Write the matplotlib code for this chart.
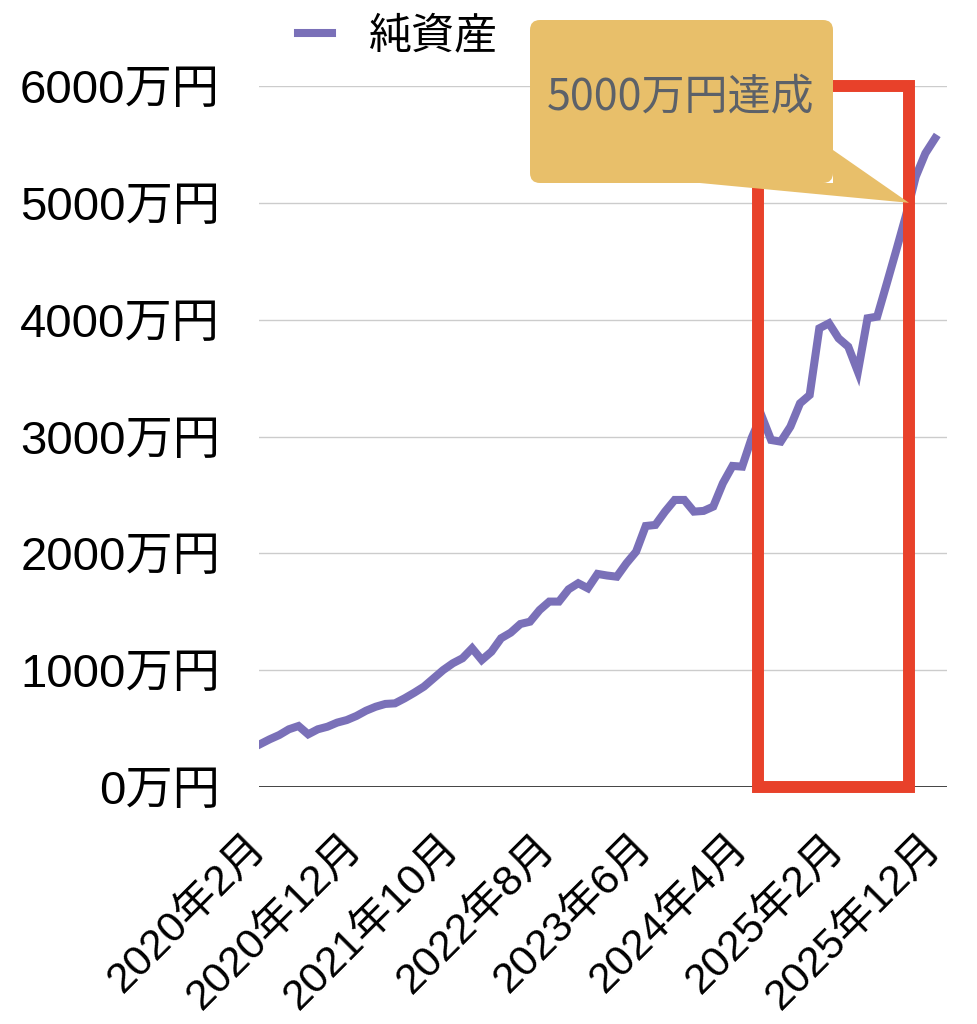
import matplotlib
matplotlib.use("Agg")
import matplotlib.pyplot as plt
from matplotlib.patches import Rectangle, FancyBboxPatch, Polygon
from matplotlib.lines import Line2D
from matplotlib.transforms import IdentityTransform

plt.rcParams["font.family"] = ["Noto Sans CJK JP", "DejaVu Sans"]
tick_family = ["Liberation Sans", "Noto Sans CJK JP"]

# Monthly net worth (万円), 2020年2月 .. 2025年12月
net_worth = [
    366, 408, 445, 494, 522, 451, 494, 516, 551, 573,
    608, 653, 687, 711, 716, 759, 807, 859, 930, 1001,
    1059, 1102, 1187, 1087, 1158, 1273, 1321, 1395, 1415, 1515,
    1587, 1587, 1692, 1744, 1701, 1824, 1810, 1800, 1915, 2014,
    2234, 2243, 2357, 2457, 2457, 2357, 2363, 2400, 2600, 2748,
    2742, 2990, 3180, 2970, 2956, 3084, 3284, 3355, 3926, 3969,
    3840, 3769, 3555, 4012, 4026, 4311, 4600, 4896, 5224, 5424,
    5552,
]
x_tick_labels = ["2020年2月", "2020年12月", "2021年10月", "2022年8月",
                 "2023年6月", "2024年4月", "2025年2月", "2025年12月"]
x_tick_step = 10
y_ticks = [0, 1000, 2000, 3000, 4000, 5000, 6000]
series_label = "純資産"
callout_text = "5000万円達成"
goal_value = 5000
highlight_start, highlight_end = 51.6, 67.3

W, H = 977, 1024
fig = plt.figure(figsize=(W / 100, H / 100), dpi=100)
ax = fig.add_axes([259 / W, 1 - 787 / H, 688 / W, 701 / H])

line_color = "#7A70B8"
xs = list(range(len(net_worth)))
ax.plot(xs, net_worth, color=line_color, lw=5.8, solid_joinstyle="miter", zorder=3)

ax.set_xlim(-0.1, 71.24)
ax.set_ylim(0, 6000)
ax.set_yticks(y_ticks)
ax.set_yticklabels([f"{v}万円" for v in y_ticks], family=tick_family, fontsize=34)
ax.set_xticks([i * x_tick_step for i in range(len(x_tick_labels))])
ax.set_xticklabels(x_tick_labels, rotation=45, ha="right", va="center",
                   rotation_mode="anchor", family=tick_family, fontsize=31)

ax.yaxis.grid(True, color="#CCCCCC", lw=1)
ax.set_axisbelow(True)
ax.axhline(0, color="#333333", lw=2, zorder=2)
for s in ax.spines.values():
    s.set_visible(False)
ax.tick_params(axis="both", length=0, colors="black")
ax.tick_params(axis="y", pad=28)
ax.tick_params(axis="x", pad=39)

# highlighted period
rect = Rectangle((highlight_start, 0), highlight_end - highlight_start, 6000,
                 fill=False, ec="#E8412A", lw=8.6, joinstyle="miter",
                 clip_on=False, zorder=4)
ax.add_patch(rect)

# legend
handle = Line2D([], [], color=line_color, lw=5.8)
ax.legend([handle], [series_label], loc="upper left",
          bbox_to_anchor=(298 / W, 1 - 14 / H), bbox_transform=fig.transFigure,
          frameon=False, fontsize=31, handlelength=0.8, handletextpad=0.85,
          borderpad=0, borderaxespad=0)

# callout pointing at the goal crossing
fig.canvas.draw()
tip = ax.transData.transform((highlight_end, goal_value))
gold = "#E8BF6A"
box = FancyBboxPatch((530, H - 183), 303, 163,
                     boxstyle="round,pad=0,rounding_size=10",
                     transform=IdentityTransform(), fc=gold, ec="none", zorder=5)
fig.add_artist(box)
tail = Polygon([(833, H - 150), (tip[0], tip[1]), (700, H - 183), (833, H - 183)],
               closed=True, transform=IdentityTransform(), fc=gold, ec="none", zorder=5)
fig.add_artist(tail)
fig.text(547 / W, 1 - 97 / H, callout_text, ha="left", va="center",
         fontsize=31, color="#5C6169", zorder=6)

fig.savefig("out.png", dpi=100)
